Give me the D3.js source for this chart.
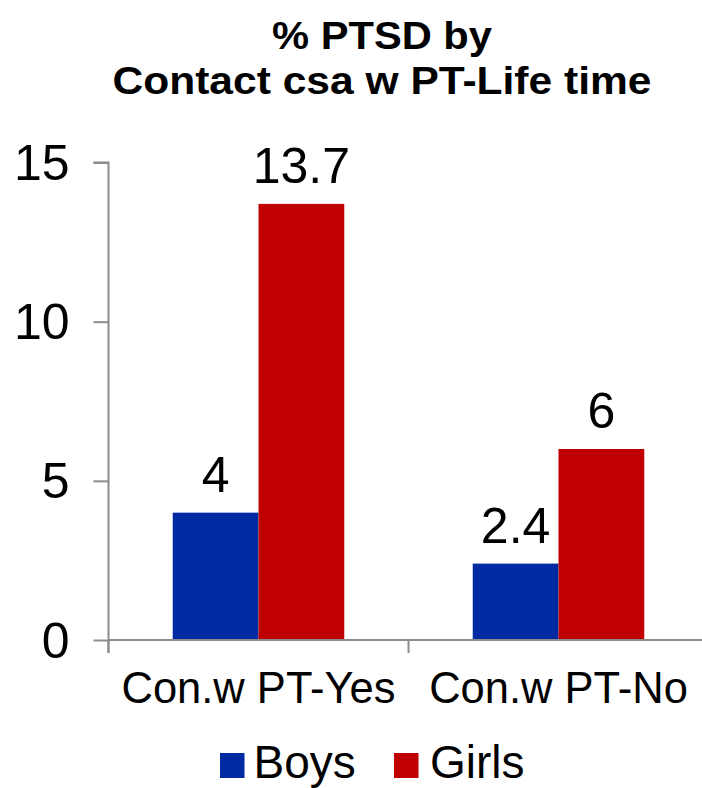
<!DOCTYPE html>
<html><head><meta charset="utf-8">
<script src="https://cdn.jsdelivr.net/npm/d3@7"></script>
<style>body{margin:0;background:#fff}svg{display:block}text{font-family:"Liberation Sans",Arial,sans-serif}</style>
</head><body>
<script>
const categories = ["Con.w PT-Yes", "Con.w PT-No"];
const series = ["Boys", "Girls"];
const boys = [4, 2.4];
const girls = [13.7, 6];
const valueLabels = [["4", "13.7"], ["2.4", "6"]];
const yTicks = [0, 5, 10, 15];
const titleLines = ["% PTSD by", "Contact csa w PT-Life time"];
const colors = ["#0029A4", "#C00000"];

const W = 702, H = 788;
const svg = d3.select("body").append("svg").attr("width", W).attr("height", H);

const y = d3.scaleLinear().domain([0, 15]).range([640, 162.5]);
const x0 = d3.scaleBand().domain(categories).range([108.5, 708.5]).padding(0);
const x1 = d3.scaleBand().domain(series).range([0, x0.bandwidth()]).paddingInner(0).paddingOuter(0.749);
const color = d3.scaleOrdinal().domain(series).range(colors);

// title
svg.append("g").selectAll("text").data(titleLines).join("text")
  .attr("x", 382).attr("y", (d, i) => 49 + i * 45)
  .attr("text-anchor", "middle").attr("font-weight", "bold")
  .attr("font-size", 38)
  .attr("textLength", (d, i) => i === 0 ? 220 : 539)
  .attr("lengthAdjust", "spacingAndGlyphs")
  .text(d => d);

// bars
const data = categories.map((c, i) => ({ cat: c, vals: [boys[i], girls[i]], labels: valueLabels[i] }));
const g = svg.append("g").selectAll("g").data(data).join("g")
  .attr("transform", d => `translate(${x0(d.cat)},0)`);
g.selectAll("rect").data(d => d.vals.map((v, j) => ({ s: series[j], v }))).join("rect")
  .attr("x", d => x1(d.s)).attr("width", x1.bandwidth())
  .attr("y", d => y(d.v)).attr("height", d => y(0) - y(d.v))
  .attr("fill", d => color(d.s));
g.selectAll("text").data(d => d.vals.map((v, j) => ({ s: series[j], v, l: d.labels[j] }))).join("text")
  .attr("x", d => x1(d.s) + x1.bandwidth() / 2).attr("y", d => y(d.v) - 21)
  .attr("text-anchor", "middle").attr("font-size", 50).attr("fill", "#000")
  .text(d => d.l);

// y axis
const yAxis = d3.axisLeft(y).tickValues(yTicks).tickSize(15).tickPadding(24).tickFormat(d3.format("d"));
const ya = svg.append("g").attr("transform", "translate(108.5,0)").call(yAxis);
ya.select(".domain").attr("stroke", "#8c8c8c").attr("stroke-width", 2).attr("d", "M-15,162.5H0V653");
ya.selectAll(".tick line").attr("stroke", "#8c8c8c").attr("stroke-width", 2);
ya.selectAll(".tick text").attr("font-size", 50).attr("fill", "#000").attr("dy", "0.34em")
  .attr("font-family", '"Liberation Sans",Arial,sans-serif');

// x axis
const xa = svg.append("g").attr("transform", "translate(0,640)");
xa.append("line").attr("x1", 108.5).attr("x2", 710).attr("y1", 0).attr("y2", 0)
  .attr("stroke", "#8c8c8c").attr("stroke-width", 2);
const bounds = categories.map(c => x0(c)).concat([x0(categories[categories.length - 1]) + x0.bandwidth()]);
xa.selectAll("line.tk").data(bounds).join("line").attr("class", "tk")
  .attr("x1", d => d).attr("x2", d => d).attr("y1", 0).attr("y2", 13)
  .attr("stroke", "#8c8c8c").attr("stroke-width", 2);
xa.selectAll("text").data(categories).join("text")
  .attr("x", d => x0(d) + x0.bandwidth() / 2).attr("y", 63)
  .attr("text-anchor", "middle").attr("font-size", 43.5).attr("fill", "#000")
  .text(d => d);

// legend
const legX = [220, 394];
const lg = svg.append("g").selectAll("g").data(series).join("g")
  .attr("transform", (d, i) => `translate(${legX[i]},753)`);
lg.append("rect").attr("width", 24.5).attr("height", 25).attr("fill", d => color(d));
lg.append("text").attr("x", (d, i) => i === 0 ? 33.5 : 36).attr("y", 24.5)
  .attr("font-size", 46).attr("fill", "#000").text(d => d);
</script>
</body></html>
